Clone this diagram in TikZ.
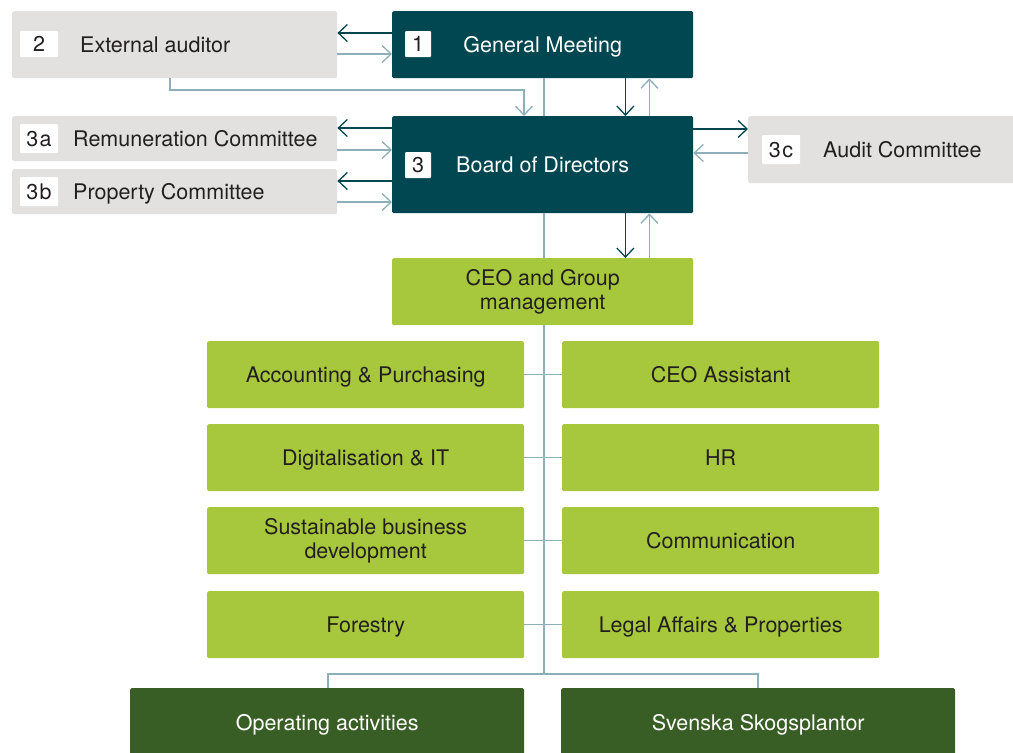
\documentclass[tikz,border=0pt]{standalone}
\usepackage{fontspec}
\setmainfont{TeX Gyre Heros}
\usetikzlibrary{arrows.meta,calc}

\definecolor{deepteal}{HTML}{004752}
\definecolor{paleGrey}{HTML}{E3E1DF}
\definecolor{limeGreen}{HTML}{A7C83C}
\definecolor{pineGreen}{HTML}{385E25}
\definecolor{softLine}{HTML}{8CAFB9}
\definecolor{inkText}{HTML}{231F20}

\newcommand{\boxfont}{\fontsize{21.5}{24}\selectfont}

\tikzset{
  panel/.style={rectangle, rounded corners=1.5pt, inner sep=0pt, anchor=north west,
                text=inkText, font=\boxfont, align=center},
  greypanel/.style={panel, fill=paleGrey},
  navypanel/.style={panel, fill=deepteal, text=white, text height=15pt, text depth=0pt},
  limepanel/.style={panel, fill=limeGreen, minimum width=317pt, minimum height=67pt},
  pinepanel/.style={panel, fill=pineGreen, text=white, minimum width=394pt, minimum height=70pt,
                    text height=15pt, text depth=0pt},
  oneline/.style={text height=15pt, text depth=0pt},
  tag/.style={rectangle, fill=white, rounded corners=1pt, inner sep=0pt, text=inkText,
              font=\boxfont, text height=15pt, text depth=0pt},
  sidelabel/.style={anchor=west, inner sep=0pt, text=inkText, font=\boxfont,
                    text height=15pt, text depth=0pt},
  barb/.style={-{Straight Barb[length=9pt,width=17pt]}},
  darkarrow/.style={draw=deepteal, line width=1.3pt, barb},
  lightarrow/.style={draw=softLine, line width=1.3pt, barb},
  link/.style={draw=softLine, line width=1.3pt}
}

\begin{document}
\begin{tikzpicture}[x=1pt,y=-1pt]
  \useasboundingbox (0,0) rectangle (1013,753);

  % governance bodies
  \node[greypanel, minimum width=325pt, minimum height=67pt] (ext) at (12,11) {};
  \node[tag, minimum width=38pt, minimum height=26pt] (tag2) at (39,44) {2};
  \node[sidelabel] (extlabel) at (80,44.5) {External auditor};

  \node[navypanel, minimum width=301pt, minimum height=67pt] (gm) at (392,11) {General Meeting};
  \node[tag, minimum width=26pt, minimum height=26pt] (tag1) at (418,44) {1};

  \node[navypanel, minimum width=301pt, minimum height=97pt] (board) at (392,116) {Board of Directors};
  \node[tag, minimum width=26pt, minimum height=26pt] (tag3) at (418,165) {3};

  \node[greypanel, minimum width=325pt, minimum height=45pt] (rem) at (12,116) {};
  \node[tag, minimum width=38pt, minimum height=29pt] (tag3a) at (39,138.5) {3\kern1.5pt a};
  \node[sidelabel] (remlabel) at (73,138.5) {Remuneration Committee};

  \node[greypanel, minimum width=325pt, minimum height=45pt] (prop) at (12,169) {};
  \node[tag, minimum width=38pt, minimum height=29pt] (tag3b) at (39,191.5) {3\kern1.5pt b};
  \node[sidelabel] (proplabel) at (73,191.5) {Property Committee};

  \node[greypanel, minimum width=266pt, minimum height=67pt] (audit) at (748,116) {};
  \node[tag, minimum width=38pt, minimum height=29pt] (tag3c) at (781,149.5) {3\kern1.5pt c};
  \node[sidelabel] (auditlabel) at (823,149.5) {Audit Committee};

  % management
  \node[limepanel, minimum width=301pt] (ceo) at (392,258) {CEO and Group\\management};

  \node[limepanel, oneline] (acc)  at (207,341) {Accounting \& Purchasing};
  \node[limepanel, oneline] (dig)  at (207,424) {Digitalisation \& IT};
  \node[limepanel] (sus) at (207,507) {Sustainable business\\development};
  \node[limepanel, oneline] (for)  at (207,591) {Forestry};

  \node[limepanel, oneline] (asst) at (562,341) {CEO Assistant};
  \node[limepanel, oneline] (hr)   at (562,424) {HR};
  \node[limepanel, oneline] (comm) at (562,507) {Communication};
  \node[limepanel, oneline] (legal) at (562,591) {Legal Affairs \& Properties};

  % operations
  \node[pinepanel] (ops) at (130,688) {Operating activities};
  \node[pinepanel] (svsk) at (561,688) {Svenska Skogsplantor};

  % spine of the chart and its split to the operations
  \coordinate (split) at (544,674);
  \coordinate (opsdrop) at (328,674);
  \coordinate (svskdrop) at (758,674);

  \draw[link] (gm.south -| split) -- (board.north -| split);
  \draw[link] (board.south -| split) -- (ceo.north -| split);
  \draw[link] (ceo.south -| split) -- (split);
  \draw[link] (ops.north -| opsdrop) -- (opsdrop) -- (svskdrop) -- (svsk.north -| svskdrop);

  % staff functions hang off the spine
  \draw[link] (acc.east) -- (asst.west);
  \draw[link] (dig.east) -- (hr.west);
  \draw[link] (sus.east) -- (comm.west);
  \draw[link] (for.east) -- (legal.west);

  % General Meeting <-> External auditor
  \draw[darkarrow] ($(gm.north west)+(0,22)$) -- ($(ext.north east)+(0,22)$);
  \draw[lightarrow] ($(ext.north east)+(0,43)$) -- ($(gm.north west)+(0,43)$);
  \draw[lightarrow] ($(ext.south west)+(158,0)$) |- ($(board.north west)+(132,-26)$)
                    -- ($(board.north west)+(132,0)$);

  % General Meeting <-> Board of Directors
  \draw[darkarrow] ($(gm.south east)+(-68,0)$) -- ($(board.north east)+(-68,0)$);
  \draw[lightarrow] ($(board.north east)+(-44,0)$) -- ($(gm.south east)+(-44,0)$);

  % Board of Directors <-> committees
  \draw[darkarrow] ($(board.north west)+(0,12)$) -- ($(rem.north east)+(0,12)$);
  \draw[lightarrow] ($(rem.north east)+(0,34)$) -- ($(board.north west)+(0,34)$);
  \draw[darkarrow] ($(board.north west)+(0,65)$) -- ($(prop.north east)+(0,12)$);
  \draw[lightarrow] ($(prop.north east)+(0,33)$) -- ($(board.north west)+(0,86)$);
  \draw[darkarrow] ($(board.north east)+(0,13)$) -- ($(audit.north west)+(0,13)$);
  \draw[lightarrow] ($(audit.north west)+(0,37)$) -- ($(board.north east)+(0,37)$);

  % Board of Directors <-> CEO
  \draw[darkarrow] ($(board.south east)+(-68,0)$) -- ($(ceo.north east)+(-68,0)$);
  \draw[lightarrow] ($(ceo.north east)+(-44,0)$) -- ($(board.south east)+(-44,0)$);
\end{tikzpicture}
\end{document}
